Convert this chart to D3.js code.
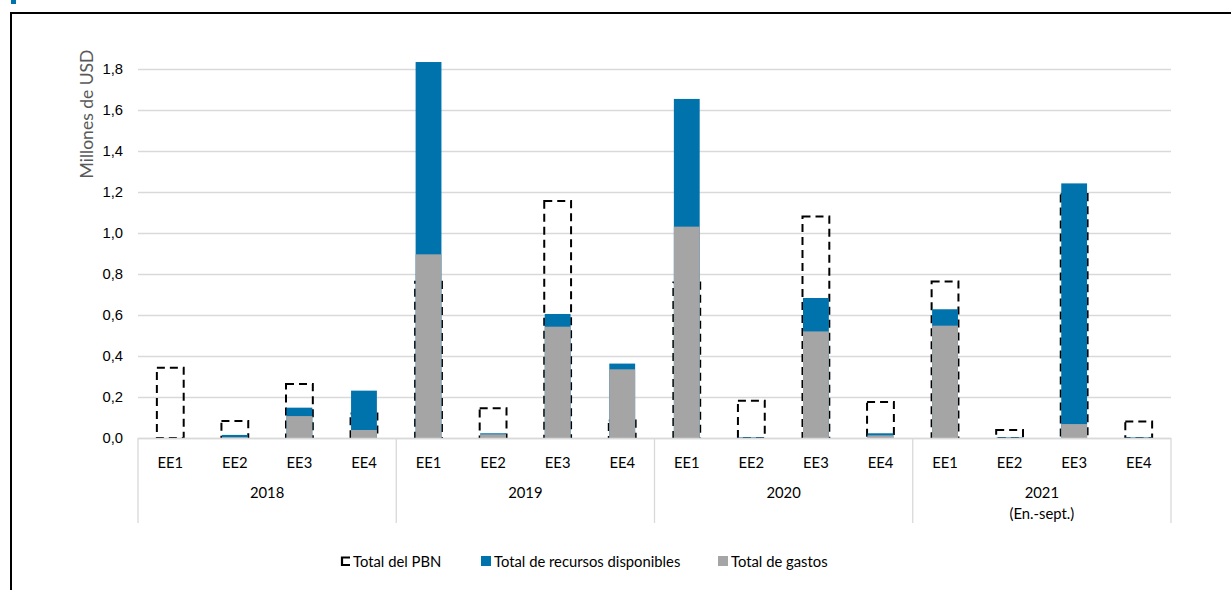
<!DOCTYPE html>
<html>
<head>
<meta charset="utf-8">
<script src="https://cdn.jsdelivr.net/npm/d3@7"></script>
<style>
  html, body { margin: 0; padding: 0; background: #fff; }
  svg { display: block; font-family: Lato, "Open Sans", sans-serif; }
</style>
</head>
<body>
<svg id="chart" width="1231" height="590"></svg>
<script>
// Quarterly figures (EE1–EE4) per year, in millions of USD
const years = ["2018", "2019", "2020", "2021"];
const yearNotes = ["", "", "", "(En.-sept.)"];
const quarters = ["EE1", "EE2", "EE3", "EE4"];
const totalPBN = [0.343, 0.083, 0.263, 0.12, 0.762, 0.145, 1.156, 0.085, 0.758, 0.182, 1.08, 0.176, 0.764, 0.039, 1.19, 0.081];
const recursos = [0.0, 0.015, 0.148, 0.231, 1.834, 0.023, 0.605, 0.363, 1.654, 0.003, 0.683, 0.023, 0.628, 0.003, 1.242, 0.003];
const gastos = [0.0, 0.004, 0.107, 0.039, 0.896, 0.018, 0.543, 0.335, 1.031, 0.0, 0.52, 0.013, 0.548, 0.0, 0.068, 0.0];
const yTicks = [0, 0.2, 0.4, 0.6, 0.8, 1.0, 1.2, 1.4, 1.6, 1.8];
const seriesNames = ["Total del PBN", "Total de recursos disponibles", "Total de gastos"];

const BLUE = "#0073AD", GRAY = "#A5A5A5", GRID = "#D9D9D9";
const FS = 14.8;

const svg = d3.select("#chart");

// Outer frame and corner marker
svg.append("rect").attr("x", 11).attr("y", 0).attr("width", 5).attr("height", 4).attr("fill", BLUE);
svg.append("path").attr("d", "M11,600 L11,13 L1240,13").attr("fill", "none").attr("stroke", "#000").attr("stroke-width", 2);

const plot = { left: 138, right: 1171, top: 69, bottom: 438 };

const keys = [];
years.forEach(y => quarters.forEach(q => keys.push(y + "|" + q)));

const x = d3.scaleBand().domain(keys).range([plot.left, plot.right]).paddingInner(0.6).paddingOuter(0.3);
const y = d3.scaleLinear().domain([0, 1.8]).range([plot.bottom, plot.top]);
const yearScale = d3.scaleBand().domain(years).range([plot.left, plot.right]);

// Horizontal gridlines and value labels
const yAxis = d3.axisLeft(y).tickValues(yTicks).tickSize(-(plot.right - plot.left)).tickPadding(15)
  .tickFormat(d => d3.format(".1f")(d).replace(".", ","));
const gy = svg.append("g").attr("transform", `translate(${plot.left},0)`).call(yAxis);
gy.select(".domain").remove();
gy.selectAll(".tick line").attr("stroke", GRID).attr("stroke-width", 1.3);
gy.selectAll(".tick text").attr("fill", "#000").attr("font-size", FS).attr("font-family", null);

svg.append("text")
  .attr("transform", `translate(93,114) rotate(-90)`)
  .attr("text-anchor", "middle")
  .attr("fill", "#595959").attr("font-size", 17.5)
  .text("Millones de USD");

// Dashed outline bars: Total del PBN (behind filled bars)
const bw = x.bandwidth();
svg.append("g").selectAll("rect").data(keys).join("rect")
  .attr("x", d => x(d) - 0.5)
  .attr("width", bw + 1)
  .attr("y", (d, i) => y(totalPBN[i]))
  .attr("height", (d, i) => y(0) - y(totalPBN[i]))
  .attr("fill", "none").attr("stroke", "#000").attr("stroke-width", 2)
  .attr("stroke-dasharray", "8,5");

// Available resources (blue) with expenses (gray) overlapped in front
svg.append("g").selectAll("rect").data(keys).join("rect")
  .attr("x", d => x(d)).attr("width", bw)
  .attr("y", (d, i) => y(recursos[i]))
  .attr("height", (d, i) => y(0) - y(recursos[i]))
  .attr("fill", BLUE);
svg.append("g").selectAll("rect").data(keys).join("rect")
  .attr("x", d => x(d)).attr("width", bw)
  .attr("y", (d, i) => y(gastos[i]))
  .attr("height", (d, i) => y(0) - y(gastos[i]))
  .attr("fill", GRAY);

// Category axis: baseline, group separators, quarter and year labels
const axisG = svg.append("g");
axisG.append("line").attr("x1", plot.left).attr("x2", plot.right)
  .attr("y1", plot.bottom + 0.5).attr("y2", plot.bottom + 0.5)
  .attr("stroke", GRID).attr("stroke-width", 1.3);
const seps = years.map(yr => yearScale(yr)).concat([plot.right]);
axisG.selectAll("line.sep").data(seps).join("line").attr("class", "sep")
  .attr("x1", d => d).attr("x2", d => d)
  .attr("y1", plot.bottom).attr("y2", 523)
  .attr("stroke", GRID).attr("stroke-width", 1.3);
axisG.selectAll("text.q").data(keys).join("text").attr("class", "q")
  .attr("x", d => x(d) + bw / 2).attr("y", 468)
  .attr("text-anchor", "middle").attr("font-size", FS).attr("fill", "#000")
  .text(d => d.split("|")[1]);
axisG.selectAll("text.yr").data(years).join("text").attr("class", "yr")
  .attr("x", d => yearScale(d) + yearScale.bandwidth() / 2).attr("y", 498)
  .attr("text-anchor", "middle").attr("font-size", FS).attr("fill", "#000")
  .text(d => d);
axisG.selectAll("text.note").data(years).join("text").attr("class", "note")
  .attr("x", d => yearScale(d) + yearScale.bandwidth() / 2).attr("y", 519)
  .attr("text-anchor", "middle").attr("font-size", FS).attr("fill", "#000")
  .text((d, i) => yearNotes[i]);

// Legend
const legend = svg.append("g").attr("font-size", FS).attr("fill", "#000");
const legendX = [341, 481, 718];
seriesNames.forEach((name, i) => {
  const g = legend.append("g").attr("transform", `translate(${legendX[i]},556)`);
  if (i === 0) {
    g.append("path").attr("d", "M9,1.5 L1,1.5 L1,9 L9,9").attr("fill", "none")
      .attr("stroke", "#000").attr("stroke-width", 2.2);
  } else {
    g.append("rect").attr("width", 10).attr("height", 10).attr("fill", i === 1 ? BLUE : GRAY);
  }
  g.append("text").attr("x", i === 0 ? 12 : 13).attr("y", 10.5).text(name);
});
</script>
</body>
</html>
